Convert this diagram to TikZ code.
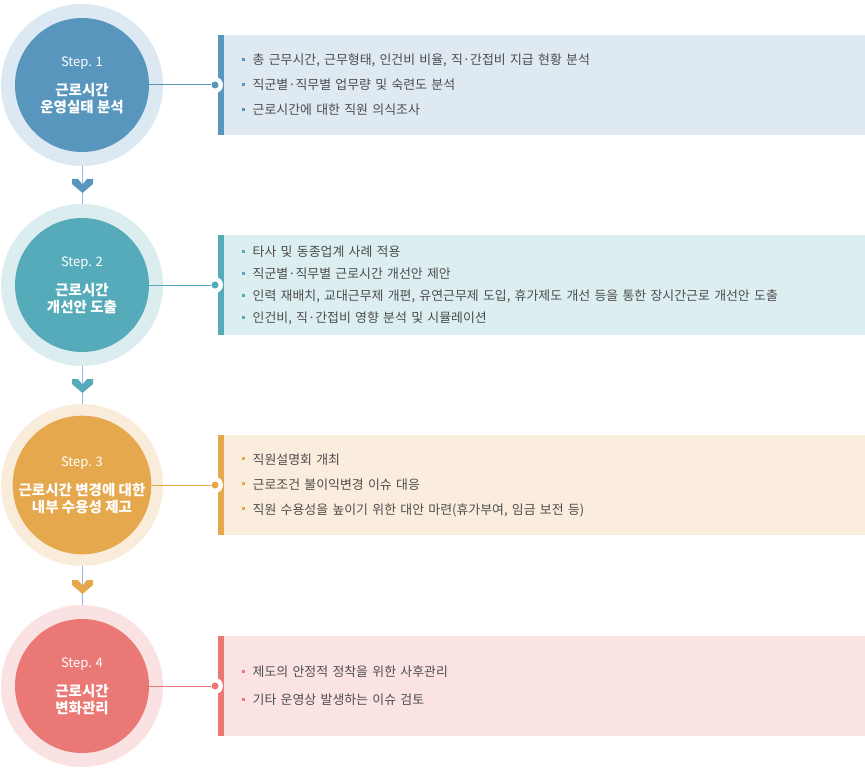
\documentclass[tikz,border=0pt]{standalone}
\usepackage{fontspec}
\setmainfont{Noto Sans CJK KR}
\usepackage{xcolor}
\usepackage{tikz}
\usetikzlibrary{positioning}
\definecolor{mainA}{HTML}{5896BD}
\definecolor{ringA}{HTML}{DDE9F2}
\definecolor{boxA}{HTML}{DEE9F1}
\definecolor{mainB}{HTML}{55ABBA}
\definecolor{ringB}{HTML}{DCEDF0}
\definecolor{boxB}{HTML}{DDEEF1}
\definecolor{mainC}{HTML}{E5A84D}
\definecolor{ringC}{HTML}{FAECDB}
\definecolor{boxC}{HTML}{FBEDDD}
\definecolor{mainD}{HTML}{EA7874}
\definecolor{ringD}{HTML}{FBE2E2}
\definecolor{boxD}{HTML}{FCE3E3}
\definecolor{textgray}{HTML}{4D4D4D}
\definecolor{vblue}{HTML}{9AB4E8}
\newcommand{\bl}[1]{\textcolor{#1}{\rule[3.6pt]{3pt}{3pt}}\hspace{8pt}}
\newcommand{\tb}[1]{{\bfseries\fontsize{14.5}{17}\selectfont #1}}
\tikzstyle{ring} = [circle, minimum size=162pt, inner sep=0pt]
\tikzstyle{stepcircle} = [circle, minimum size=134pt, inner sep=0pt, text=white, align=center, font=\fontsize{13}{17}\selectfont]
\tikzstyle{box} = [rectangle, minimum width=647pt, minimum height=100pt, inner xsep=23pt, inner ysep=0pt, text width=600pt, align=left, text=textgray, anchor=west]
\tikzstyle{halo} = [circle, fill=white, minimum size=16pt, inner sep=0pt]
\tikzstyle{dot} = [circle, minimum size=7pt, inner sep=0pt]
\tikzstyle{link} = [line width=1pt]
\tikzstyle{vline} = [draw=vblue, line width=1pt]

\begin{document}
\begin{tikzpicture}[x=1pt, y=-1pt, node distance=200pt]
		\useasboundingbox (0,0) rectangle (865,773);
		% rings
		\node (r1) [ring, fill=ringA] at (82,85) {};
		\node (r2) [ring, fill=ringB, below of=r1] {};
		\node (r3) [ring, fill=ringC, below of=r2] {};
		\node (r4) [ring, fill=ringD, below of=r3, node distance=201pt] {};

		% vertical line and chevrons
		\draw [vline] (r1.south) -- (r2.north);
		\draw [vline] (r2.south) -- (r3.north);
		\draw [vline] (r3.south) -- (r4.north);
		\coordinate (v1) at (82.5,186);
		\coordinate (v2) at (82.5,386);
		\coordinate (v3) at (82.5,587);
		\fill [mainA, shift={(v1)}] (-10.5,-7) -- (-4.5,-7) -- (0,-1.5) -- (4.5,-7) -- (10.5,-7) -- (10.5,-2) -- (0,7) -- (-10.5,-2) -- cycle;
		\fill [mainB, shift={(v2)}] (-10.5,-7) -- (-4.5,-7) -- (0,-1.5) -- (4.5,-7) -- (10.5,-7) -- (10.5,-2) -- (0,7) -- (-10.5,-2) -- cycle;
		\fill [mainC, shift={(v3)}] (-10.5,-7) -- (-4.5,-7) -- (0,-1.5) -- (4.5,-7) -- (10.5,-7) -- (10.5,-2) -- (0,7) -- (-10.5,-2) -- cycle;

		% step circles
		\node (s1) [stepcircle, fill=mainA] at (r1) {Step. 1\\[12pt]\tb{근로시간}\\\tb{운영실태 분석}};
		\node (s2) [stepcircle, fill=mainB] at (r2) {Step. 2\\[12pt]\tb{근로시간}\\\tb{개선안 도출}};
		\node (s3) [stepcircle, fill=mainC] at (r3) {Step. 3\\[12pt]\tb{근로시간 변경에 대한}\\\tb{내부 수용성 제고}};
		\node (s4) [stepcircle, fill=mainD] at (r4) {Step. 4\\[12pt]\tb{근로시간}\\\tb{변화관리}};

		% boxes
		\node (b1) [box, fill=boxA, font=\fontsize{12.9}{25}\selectfont] at (218,85) {\bl{mainA}총 근무시간, 근무형태, 인건비 비율, 직·간접비 지급 현황 분석\\
			\bl{mainA}직군별·직무별 업무량 및 숙련도 분석\\
			\bl{mainA}근로시간에 대한 직원 의식조사};
		\node (b2) [box, fill=boxB, font=\fontsize{12.9}{22}\selectfont] at (218,285) {\bl{mainB}타사 및 동종업계 사례 적용\\
			\bl{mainB}직군별·직무별 근로시간 개선안 제안\\
			\bl{mainB}인력 재배치, 교대근무제 개편, 유연근무제 도입, 휴가제도 개선 등을 통한 장시간근로 개선안 도출\\
			\bl{mainB}인건비, 직·간접비 영향 분석 및 시뮬레이션};
		\node (b3) [box, fill=boxC, font=\fontsize{12.9}{25}\selectfont] at (218,485) {\bl{mainC}직원설명회 개최\\
			\bl{mainC}근로조건 불이익변경 이슈 대응\\
			\bl{mainC}직원 수용성을 높이기 위한 대안 마련(휴가부여, 임금 보전 등)};
		\node (b4) [box, fill=boxD, font=\fontsize{12.9}{28}\selectfont] at (218,686) {\bl{mainD}제도의 안정적 정착을 위한 사후관리\\
			\bl{mainD}기타 운영상 발생하는 이슈 검토};

		% bars
		\fill [mainA] (b1.north west) rectangle ++(6,100);
		\fill [mainB] (b2.north west) rectangle ++(6,100);
		\fill [mainC] (b3.north west) rectangle ++(6,100);
		\fill [mainD] (b4.north west) rectangle ++(6,100);

		% dots
		\node (h1) [halo] at (215,85) {};
		\node (h2) [halo] at (215,285) {};
		\node (h3) [halo] at (215,485) {};
		\node (h4) [halo] at (215,686) {};
		\node (d1) [dot, fill=mainA] at (h1) {};
		\node (d2) [dot, fill=mainB] at (h2) {};
		\node (d3) [dot, fill=mainC] at (h3) {};
		\node (d4) [dot, fill=mainD] at (h4) {};

		% links
		\draw [link, mainA] (s1) -- (d1);
		\draw [link, mainB] (s2) -- (d2);
		\draw [link, mainC] (s3) -- (d3);
		\draw [link, mainD] (s4) -- (d4);

\end{tikzpicture}
\end{document}
